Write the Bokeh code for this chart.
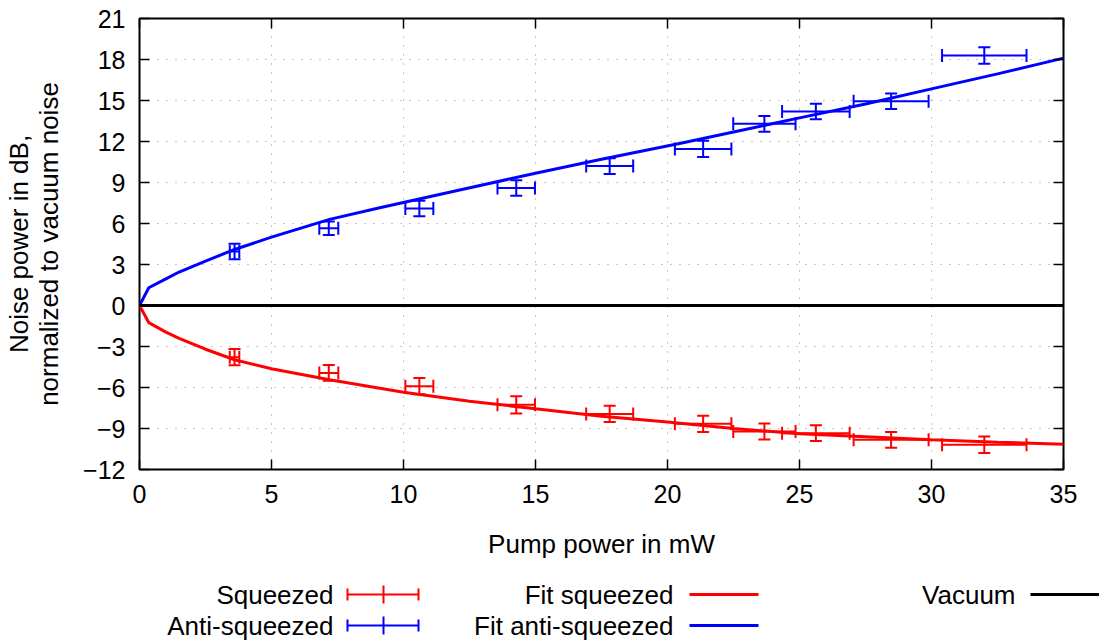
from bokeh.plotting import figure
from bokeh.models import Range1d, LinearAxis, FixedTicker
from bokeh.layouts import column
from bokeh.embed import file_html
from bokeh.resources import INLINE
from bokeh.core.properties import value

# Measured pump powers (mW) with their uncertainties
pump = [3.6, 7.17, 10.6, 14.27, 17.81, 21.35, 23.67, 25.62, 28.47, 32.0]
pump_err = [0.18, 0.36, 0.53, 0.71, 0.89, 1.07, 1.18, 1.28, 1.42, 1.6]

# Measured noise levels (dB relative to vacuum noise)
squeezed = [-3.78, -4.93, -5.9, -7.27, -7.93, -8.66, -9.22, -9.34, -9.83, -10.19]
squeezed_err = [0.6, 0.57, 0.6, 0.63, 0.6, 0.6, 0.58, 0.58, 0.57, 0.6]
anti = [3.95, 5.65, 7.1, 8.6, 10.2, 11.46, 13.29, 14.19, 14.95, 18.29]
anti_err = [0.57, 0.5, 0.57, 0.57, 0.57, 0.6, 0.57, 0.57, 0.57, 0.6]

# Fitted curves
fit_anti_x = [0, 0.35, 1.0, 1.5, 2.5, 3.6, 5, 7.2, 9.1, 12, 15, 17.5, 20.5, 22.5, 25, 27.5, 30, 32.5, 35]
fit_anti_y = [0, 1.3, 1.95, 2.45, 3.25, 4.1, 5.0, 6.3, 7.15, 8.4, 9.68, 10.7, 11.87, 12.7, 13.73, 14.75, 15.85, 16.95, 18.1]
fit_sq_x = [0, 0.35, 1.0, 1.5, 2.5, 3.6, 5, 7.2, 10, 12.5, 15, 17.5, 20, 22.5, 25, 27.5, 30, 32.5, 35]
fit_sq_y = [0, -1.25, -1.95, -2.4, -3.2, -3.97, -4.63, -5.44, -6.34, -7.0, -7.56, -8.1, -8.53, -9.0, -9.39, -9.6, -9.83, -10.0, -10.15]

# Vacuum reference level
vacuum_x = [0, 35]
vacuum_y = [0, 0]

x_ticks = [0, 5, 10, 15, 20, 25, 30, 35]
y_ticks = [-12, -9, -6, -3, 0, 3, 6, 9, 12, 15, 18, 21]

legend_labels = ["Squeezed", "Anti-squeezed", "Fit squeezed", "Fit anti-squeezed", "Vacuum"]

FONT = "Liberation Sans"
RED = "#ff0000"
BLUE = "#0000ff"

p = figure(width=1099, height=565, x_range=Range1d(0, 35), y_range=Range1d(-12, 21),
           output_backend="svg", toolbar_location=None,
           min_border_left=139, min_border_right=36, min_border_top=18, min_border_bottom=96)
p.frame_align = False
p.background_fill_color = "white"
p.border_fill_color = "white"
p.outline_line_color = "black"
p.outline_line_width = 2

p.xaxis.ticker = FixedTicker(ticks=x_ticks)
p.yaxis.ticker = FixedTicker(ticks=y_ticks)
p.xaxis.axis_label = "Pump power in mW"
p.yaxis.axis_label = "Noise power in dB,\nnormalized to vacuum noise"

for ax in (p.xaxis[0], p.yaxis[0]):
    ax.axis_line_color = None
    ax.major_tick_in = 10
    ax.major_tick_out = 0
    ax.major_tick_line_width = 1.5
    ax.minor_tick_line_color = None
    ax.major_label_text_font = FONT
    ax.major_label_text_font_size = "25px"
    ax.major_label_text_color = "black"
    ax.axis_label_text_font = FONT
    ax.axis_label_text_font_size = "26px"
    ax.axis_label_text_font_style = "normal"
    ax.axis_label_text_color = "black"
    ax.axis_label_text_line_height = 1.0

p.xaxis.major_label_standoff = 15
p.xaxis.axis_label_standoff = 23
p.yaxis.major_label_standoff = 14
p.yaxis.axis_label_standoff = 16

# mirrored ticks on the top and right edges
for loc, ticks in (("right", y_ticks), ("above", x_ticks)):
    mirror = LinearAxis(ticker=FixedTicker(ticks=ticks), axis_line_color=None,
                        major_tick_in=10, major_tick_out=0, major_tick_line_width=1.5,
                        minor_tick_line_color=None, major_label_text_font_size="1px",
                        major_label_text_alpha=0, major_label_standoff=0)
    p.add_layout(mirror, loc)

for g in (p.xgrid[0], p.ygrid[0]):
    g.grid_line_color = "#8c8c8c"
    g.grid_line_dash = "1 8"
    g.grid_line_width = 1


def error_bars(fig, xs, xe, ys, ye, color):
    xl = [a - b for a, b in zip(xs, xe)]
    xu = [a + b for a, b in zip(xs, xe)]
    yl = [a - b for a, b in zip(ys, ye)]
    yu = [a + b for a, b in zip(ys, ye)]
    fig.segment(x0=xl, y0=ys, x1=xu, y1=ys, line_color=color, line_width=2)
    fig.segment(x0=xs, y0=yl, x1=xs, y1=yu, line_color=color, line_width=2)
    for cx in (xl, xu):
        fig.rect(x=cx, y=ys, width=2, height=13, width_units="screen", height_units="screen",
                 fill_color=color, line_color=None)
    for cy in (yl, yu):
        fig.rect(x=xs, y=cy, width=12, height=2, width_units="screen", height_units="screen",
                 fill_color=color, line_color=None)


error_bars(p, pump, pump_err, squeezed, squeezed_err, RED)
error_bars(p, pump, pump_err, anti, anti_err, BLUE)

p.line(fit_sq_x, fit_sq_y, line_color=RED, line_width=3)
p.line(fit_anti_x, fit_anti_y, line_color=BLUE, line_width=3)
p.line(vacuum_x, vacuum_y, line_color="black", line_width=3)

# key below the chart, laid out in pixel coordinates
leg = figure(width=1099, height=77, x_range=Range1d(0, 1099), y_range=Range1d(77, 0),
             output_backend="svg", toolbar_location=None, min_border=0,
             x_axis_location=None, y_axis_location=None)
leg.frame_align = False
leg.outline_line_color = None
leg.grid.visible = False
leg.background_fill_color = "white"
leg.border_fill_color = "white"

row_y = [29, 60]
leg.text(x=[333, 333, 673, 673, 1015], y=[row_y[0], row_y[1], row_y[0], row_y[1], row_y[0]],
         text=legend_labels, text_align="right", text_baseline="middle",
         text_font=value(FONT), text_font_size="26px", text_color="black")

for ry, color in zip(row_y, (RED, BLUE)):
    leg.segment(x0=[347], y0=[ry], x1=[418], y1=[ry], line_color=color, line_width=2)
    leg.segment(x0=[383], y0=[ry - 9], x1=[383], y1=[ry + 9], line_color=color, line_width=2)
    leg.segment(x0=[347, 418], y0=[ry - 6, ry - 6], x1=[347, 418], y1=[ry + 6, ry + 6],
                line_color=color, line_width=2)
    leg.segment(x0=[689], y0=[ry], x1=[758], y1=[ry], line_color=color, line_width=3)
leg.segment(x0=[1030], y0=[row_y[0]], x1=[1099], y1=[row_y[0]], line_color="black", line_width=3)

layout = column(p, leg, spacing=0)
open("out.html", "w").write(file_html(layout, INLINE))
